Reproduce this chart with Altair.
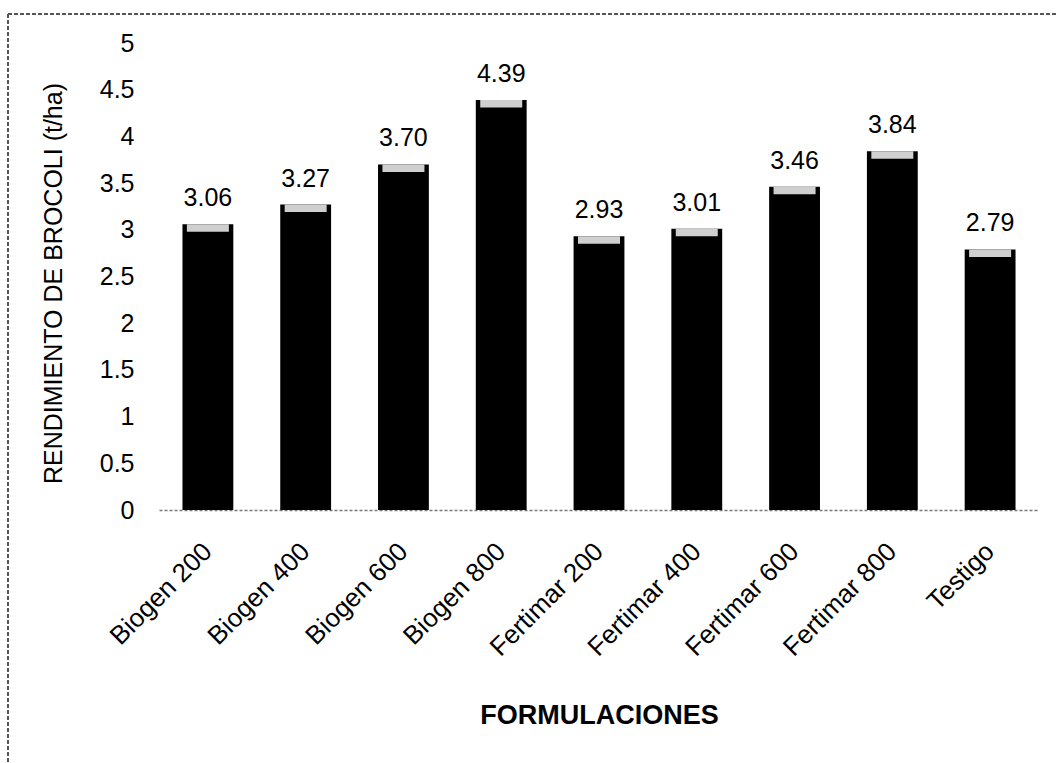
import altair as alt
import pandas as pd

formulaciones = ["Biogen 200", "Biogen 400", "Biogen 600", "Biogen 800",
                 "Fertimar 200", "Fertimar 400", "Fertimar 600", "Fertimar 800",
                 "Testigo"]
rendimiento = [3.06, 3.27, 3.70, 4.39, 2.93, 3.01, 3.46, 3.84, 2.79]
etiquetas = ["3.06", "3.27", "3.70", "4.39", "2.93", "3.01", "3.46", "3.84", "2.79"]

df = pd.DataFrame({"f": formulaciones, "r": rendimiento, "t": etiquetas})
df["r_top"] = df["r"] - 0.08

FONT = "Liberation Sans"

x = alt.X("f:N", sort=formulaciones, title="FORMULACIONES",
          scale=alt.Scale(paddingInner=0.48, paddingOuter=0.24),
          axis=alt.Axis(labelAngle=-45, labelAlign="right", labelBaseline="middle",
                        labelFontSize=26, labelPadding=37, labelColor="black",
                        labelFont=FONT, ticks=False, domainColor="#777777",
                        domainDash=[3, 2], domainWidth=1.5,
                        titleFont=FONT, titleFontSize=27, titleFontWeight="bold",
                        titleColor="black", titleY=192))
y = alt.Y("r:Q", title="RENDIMIENTO DE BROCOLI (t/ha)",
          scale=alt.Scale(domain=[0, 5]),
          axis=alt.Axis(values=[0, 0.5, 1, 1.5, 2, 2.5, 3, 3.5, 4, 4.5, 5],
                        format="~g", grid=False, domain=False, ticks=False,
                        labelFontSize=25, labelPadding=25, labelColor="black",
                        labelFont=FONT, titleFont=FONT, titleFontSize=25,
                        titleFontWeight="normal", titleColor="black",
                        titleX=-93, titleY=240))

bars = alt.Chart(df).mark_bar(color="black").encode(x=x, y=y)

# light bevel along the top edge of each bar
bevel = alt.Chart(df).mark_bar(color="#cfcfcf", width=42).encode(
    x=alt.X("f:N", sort=formulaciones), y="r:Q", y2="r_top:Q")

labels = alt.Chart(df).mark_text(fontSize=25, font=FONT, dy=-26, color="black").encode(
    x=alt.X("f:N", sort=formulaciones), y="r:Q", text="t:N")

# dashed frame around the figure
frame_top = alt.Chart(df).mark_rule(strokeDash=[4, 2], color="#555555", strokeWidth=1.2).encode(
    x=alt.value(-151), x2=alt.value(900), y=alt.value(-29))
frame_left = alt.Chart(df).mark_rule(strokeDash=[4, 2], color="#555555", strokeWidth=1.2).encode(
    x=alt.value(-151), y=alt.value(-29), y2=alt.value(720))

chart = alt.layer(bars, bevel, labels, frame_top, frame_left).properties(
    width=880, height=467,
    padding={"left": 159, "top": 43, "right": 18, "bottom": 253},
    autosize=alt.AutoSizeParams(type="none"),
    background="white",
).configure_view(stroke=None)

chart.save("out.html", embed_options={"renderer": "svg", "actions": False})
